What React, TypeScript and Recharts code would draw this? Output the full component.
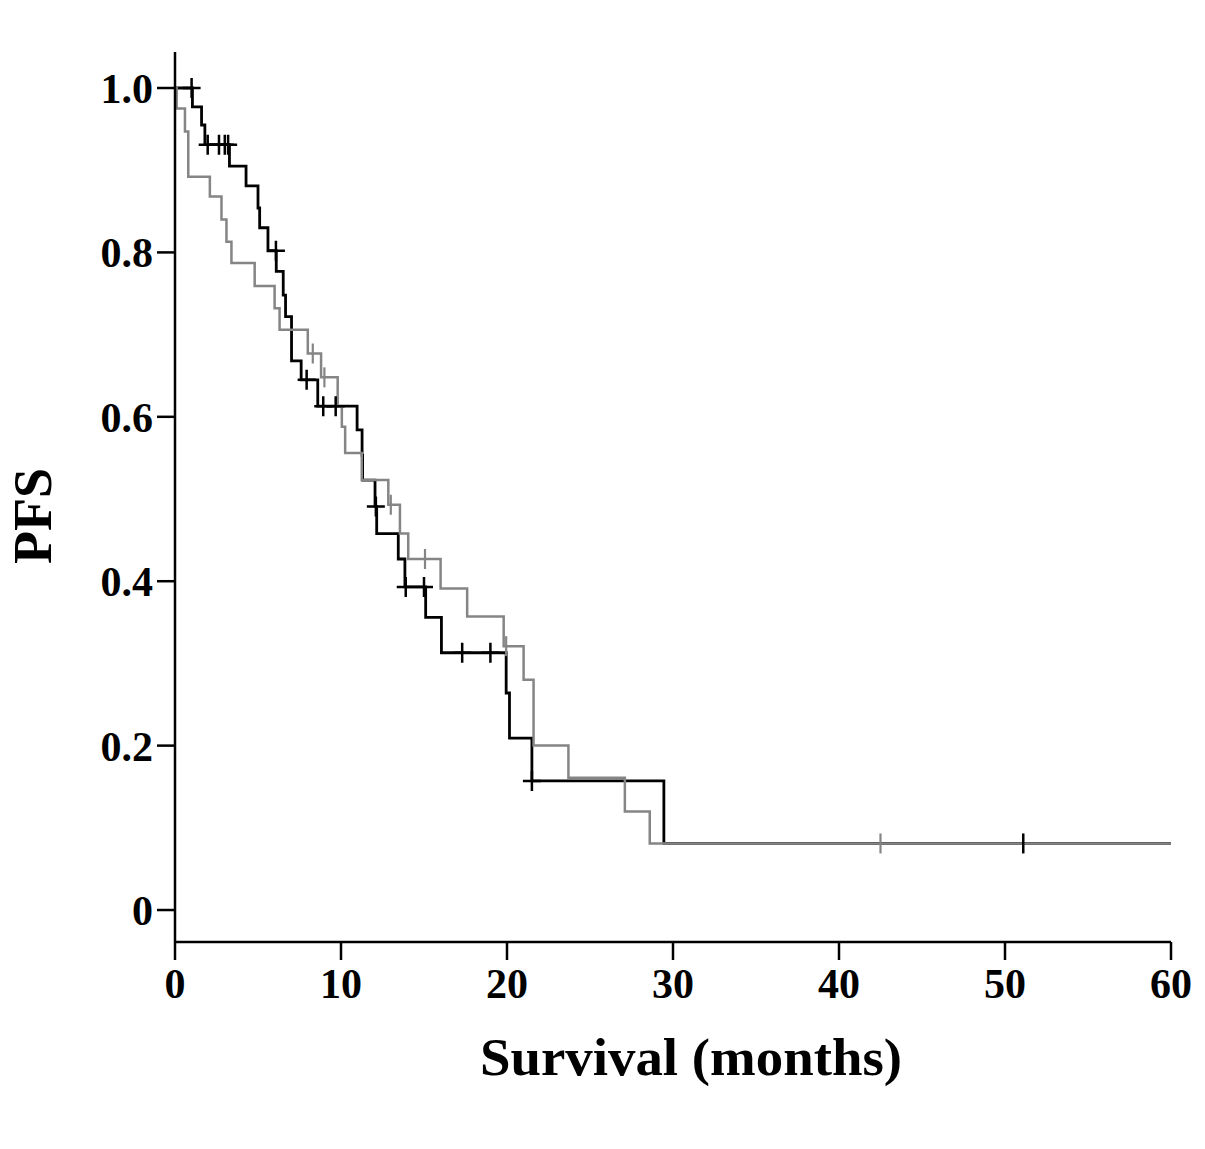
import React from "react";
import { ComposedChart, Line, Scatter, XAxis, YAxis, Label } from "recharts";

// black curve: step times (months) and survival after each step
const blackTimes = [0, 1.05, 1.6, 1.8, 3.28, 4.28, 5.0, 5.1, 5.6, 6.1, 6.52, 6.66, 7.02, 7.6, 8.6, 10.97, 11.27, 11.3, 12.05, 12.15, 13.45, 13.85, 15.1, 16.05, 19.95, 20.15, 21.5, 29.45, 60];
const blackSurv = [1.0, 0.977, 0.955, 0.931, 0.905, 0.881, 0.854, 0.83, 0.802, 0.777, 0.748, 0.722, 0.668, 0.645, 0.613, 0.584, 0.553, 0.523, 0.491, 0.458, 0.427, 0.393, 0.356, 0.313, 0.264, 0.209, 0.157, 0.081, 0.081];
const blackCensored = [1.0, 1.97, 2.65, 3.0, 3.2, 6.08, 7.93, 8.93, 9.68, 12.1, 13.9, 15.0, 17.3, 19.0, 21.5, 51.1];

// gray curve
const grayTimes = [0, 0.1, 0.6, 0.8, 2.1, 2.8, 3.1, 3.4, 4.8, 6.0, 6.3, 8.0, 8.8, 9.8, 10.05, 10.25, 11.25, 12.85, 13.55, 14.05, 16.0, 17.6, 19.8, 21.0, 21.6, 23.7, 27.1, 28.6, 60];
const graySurv = [1.0, 0.975, 0.947, 0.892, 0.868, 0.84, 0.813, 0.787, 0.759, 0.732, 0.706, 0.677, 0.648, 0.613, 0.588, 0.556, 0.523, 0.493, 0.458, 0.427, 0.391, 0.357, 0.321, 0.28, 0.2, 0.161, 0.12, 0.081, 0.081];
const grayCensored = [8.3, 9.0, 13.0, 15.06, 19.95, 42.5];

const xTicks = [0, 10, 20, 30, 40, 50, 60];
const yTicks = [0, 0.2, 0.4, 0.6, 0.8, 1.0];
const yTickLabels = ["0", "0.2", "0.4", "0.6", "0.8", "1.0"];

const BLACK = "#000";
const GRAY = "#858585";
const FONT = "'Liberation Serif', 'Times New Roman', serif";

const toSeries = (times: number[], surv: number[]) => times.map((t, i) => ({ t, s: surv[i] }));

// survival level at time t (value of the step function)
const survAt = (times: number[], surv: number[], t: number) => {
  let v = surv[0];
  times.forEach((tt, i) => {
    if (tt <= t) v = surv[i];
  });
  return v;
};

const blackData = toSeries(blackTimes, blackSurv);
const grayData = toSeries(grayTimes, graySurv);
const blackMarks = blackCensored.map((t) => ({ t, s: survAt(blackTimes, blackSurv, t) }));
const grayMarks = grayCensored.map((t) => ({ t, s: survAt(grayTimes, graySurv, t) }));

// after the last black event the two curves share a level; the gray line sits on top there
const blackLastEvent = blackTimes[blackTimes.length - 2];

const CrossMark = (props: any) => {
  const { cx, cy, payload } = props;
  const arm = payload && payload.t > blackLastEvent ? 0 : 9;
  return (
    <path
      d={`M${cx - arm},${cy}H${cx + arm}M${cx},${cy - 10}V${cy + 10}`}
      stroke={BLACK}
      strokeWidth={2.5}
      fill="none"
    />
  );
};

const TickMark = (props: any) => {
  const { cx, cy } = props;
  return <path d={`M${cx},${cy - 10}V${cy + 10}`} stroke={GRAY} strokeWidth={2.2} fill="none" />;
};

const YTick = (props: any) => {
  const { x, y, payload } = props;
  const idx = yTicks.indexOf(payload.value);
  return (
    <text x={x} y={y + 15} textAnchor="end" fontFamily={FONT} fontWeight="bold" fontSize={42} fill="#000">
      {idx >= 0 ? yTickLabels[idx] : payload.value}
    </text>
  );
};

const XTick = (props: any) => {
  const { x, y, payload } = props;
  return (
    <text x={x} y={y + 36} textAnchor="middle" fontFamily={FONT} fontWeight="bold" fontSize={42} fill="#000">
      {payload.value}
    </text>
  );
};

export default function App() {
  return (
    <div style={{ width: 1189, height: 1133, background: "#fff" }}>
      <ComposedChart
        width={1189}
        height={1133}
        margin={{ top: 44, right: 26, bottom: 40, left: 0 }}
      >
        <XAxis
          type="number"
          dataKey="t"
          domain={[0, 60]}
          ticks={xTicks}
          allowDataOverflow
          height={159}
          axisLine={{ stroke: BLACK, strokeWidth: 2.5 }}
          tickLine={{ stroke: BLACK, strokeWidth: 2.5 }}
          tickSize={18}
          tickMargin={2}
          tick={<XTick />}
        >
          <Label
            content={() => (
              <text
                x={683}
                y={1067}
                textAnchor="middle"
                fontFamily={FONT}
                fontWeight="bold"
                fontSize={52}
                textLength={422}
                lengthAdjust="spacingAndGlyphs"
                fill="#000"
              >
                Survival (months)
              </text>
            )}
          />
        </XAxis>
        <YAxis
          type="number"
          dataKey="s"
          domain={[-0.0389, 1.0438]}
          ticks={yTicks}
          allowDataOverflow
          width={167}
          axisLine={{ stroke: BLACK, strokeWidth: 2.5 }}
          tickLine={{ stroke: BLACK, strokeWidth: 2.5 }}
          tickSize={18}
          tickMargin={4}
          tick={<YTick />}
        >
          <Label
            content={() => (
              <text
                x={43}
                y={508}
                transform="rotate(-90 43 508)"
                textAnchor="middle"
                fontFamily={FONT}
                fontWeight="bold"
                fontSize={54}
                fill="#000"
              >
                PFS
              </text>
            )}
          />
        </YAxis>
        <Line
          data={blackData}
          dataKey="s"
          type="stepAfter"
          stroke={BLACK}
          strokeWidth={2.8}
          dot={false}
          activeDot={false}
          isAnimationActive={false}
        />
        <Scatter data={blackMarks} dataKey="s" shape={CrossMark} isAnimationActive={false} />
        <Line
          data={grayData}
          dataKey="s"
          type="stepAfter"
          stroke={GRAY}
          strokeWidth={2.5}
          dot={false}
          activeDot={false}
          isAnimationActive={false}
        />
        <Scatter data={grayMarks} dataKey="s" shape={TickMark} isAnimationActive={false} />
      </ComposedChart>
    </div>
  );
}
